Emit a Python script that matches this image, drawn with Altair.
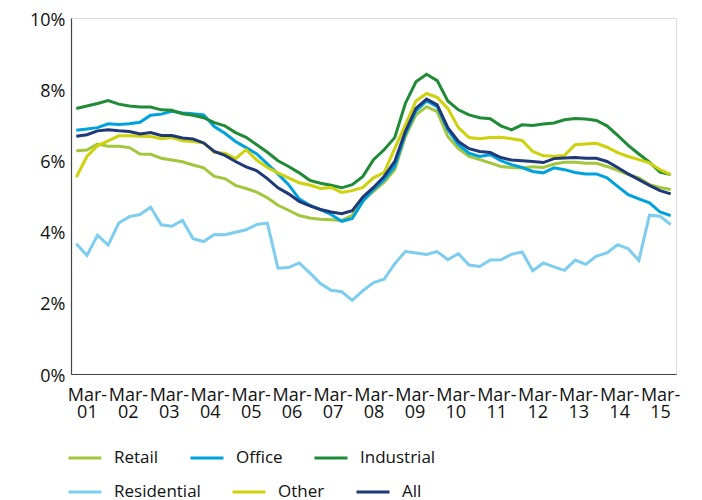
import json
import altair as alt
import pandas as pd

# Quarterly observations, Mar-01 .. Mar-15 (57 quarters), values in %
YEARS = [f"{y:02d}" for y in range(1, 16)]
YEAR_LABELS = [f"Mar-{y}" for y in YEARS]
QUARTERS = [f"{m}-{y}" for y in YEARS for m in ["Mar", "Jun", "Sep", "Dec"]][:57]

SERIES = ["Retail", "Office", "Industrial", "Residential", "Other", "All"]
COLORS = ["#a3c73c", "#00a2de", "#1f8b37", "#7dcdf0", "#cdd20a", "#1f3878"]

retail = [6.27, 6.29, 6.46, 6.40, 6.40, 6.36, 6.18, 6.17, 6.06, 6.01, 5.96, 5.87,
          5.79, 5.55, 5.49, 5.30, 5.21, 5.11, 4.95, 4.74, 4.60, 4.45, 4.38,
          4.35, 4.33, 4.31, 4.46, 4.87, 5.13, 5.39, 5.74, 6.67, 7.28, 7.51,
          7.37, 6.67, 6.33, 6.11, 6.02, 5.93, 5.83, 5.80, 5.79, 5.82, 5.80, 5.90,
          5.95, 5.95, 5.92, 5.92, 5.83, 5.72, 5.60, 5.51, 5.32, 5.24, 5.18]
office = [6.85, 6.88, 6.92, 7.03, 7.01, 7.03, 7.07, 7.27, 7.30, 7.38, 7.33, 7.31,
          7.28, 6.95, 6.76, 6.53, 6.36, 6.18, 5.90, 5.62, 5.32, 4.92, 4.74,
          4.62, 4.48, 4.29, 4.37, 4.85, 5.18, 5.46, 5.83, 6.74, 7.39, 7.67,
          7.51, 6.86, 6.44, 6.20, 6.11, 6.16, 5.99, 5.88, 5.80, 5.69, 5.65, 5.79,
          5.74, 5.66, 5.62, 5.62, 5.51, 5.27, 5.04, 4.92, 4.81, 4.55, 4.45]
industrial = [7.46, 7.53, 7.60, 7.68, 7.58, 7.53, 7.50, 7.50, 7.42, 7.41, 7.31, 7.27,
              7.20, 7.06, 6.97, 6.78, 6.65, 6.44, 6.23, 5.99, 5.83, 5.65, 5.44,
              5.36, 5.30, 5.23, 5.32, 5.55, 6.02, 6.30, 6.64, 7.60, 8.21, 8.42,
              8.24, 7.67, 7.42, 7.28, 7.20, 7.17, 6.97, 6.86, 7.00, 6.98, 7.02, 7.05,
              7.14, 7.18, 7.16, 7.12, 6.97, 6.70, 6.42, 6.18, 5.95, 5.67, 5.60]
residential = [3.66, 3.33, 3.90, 3.62, 4.24, 4.42, 4.48, 4.69, 4.19, 4.15, 4.32, 3.80,
               3.72, 3.92, 3.91, 3.98, 4.05, 4.20, 4.24, 2.97, 2.99, 3.12, 2.84,
               2.54, 2.35, 2.31, 2.07, 2.34, 2.57, 2.66, 3.10, 3.44, 3.40, 3.36,
               3.44, 3.21, 3.38, 3.06, 3.02, 3.20, 3.21, 3.36, 3.43, 2.90, 3.12, 3.01,
               2.91, 3.20, 3.08, 3.31, 3.40, 3.63, 3.52, 3.19, 4.46, 4.43, 4.20]
other = [5.53, 6.11, 6.41, 6.55, 6.69, 6.69, 6.68, 6.67, 6.61, 6.64, 6.55, 6.53,
         6.49, 6.23, 6.20, 6.05, 6.30, 6.01, 5.80, 5.65, 5.51, 5.37, 5.31,
         5.21, 5.24, 5.10, 5.15, 5.24, 5.51, 5.66, 6.33, 7.00, 7.67, 7.88,
         7.77, 7.46, 6.92, 6.64, 6.61, 6.64, 6.65, 6.61, 6.56, 6.25, 6.13, 6.12,
         6.14, 6.44, 6.46, 6.48, 6.37, 6.22, 6.11, 6.02, 5.93, 5.74, 5.60]
all_ = [6.68, 6.72, 6.83, 6.86, 6.83, 6.81, 6.74, 6.78, 6.70, 6.70, 6.63, 6.60,
        6.49, 6.25, 6.14, 5.97, 5.82, 5.71, 5.49, 5.23, 5.06, 4.85, 4.72,
        4.62, 4.55, 4.50, 4.59, 4.97, 5.24, 5.55, 5.97, 6.81, 7.46, 7.72,
        7.56, 6.92, 6.53, 6.33, 6.25, 6.22, 6.08, 6.01, 5.99, 5.97, 5.94, 6.05,
        6.07, 6.08, 6.06, 6.06, 5.97, 5.80, 5.62, 5.46, 5.30, 5.15, 5.06]

VALUES = [retail, office, industrial, residential, other, all_]

rows = []
for s, vals in zip(SERIES, VALUES):
    for i, v in enumerate(vals):
        rows.append({"t": i, "quarter": QUARTERS[i], "series": s, "value": v,
                     "order": SERIES.index(s)})
df = pd.DataFrame(rows)

n = len(QUARTERS)
# year labels are spread evenly along the axis, as in the original chart
label_pos = [1 + k * 54 / 14 for k in range(len(YEAR_LABELS))]
label_arr = json.dumps([[lab[:4], lab[4:]] for lab in YEAR_LABELS])
label_expr = f"{label_arr}[round((datum.value - 1) * 14 / 54)]"

FONT = "Open Sans"
AXIS_FS = 18

x_enc = alt.X("t:Q",
              scale=alt.Scale(domain=[-0.5, n - 0.5], nice=False, zero=False),
              axis=alt.Axis(values=label_pos, labelExpr=label_expr, title=None,
                            ticks=False, grid=False, labelOverlap=False,
                            labelBound=False, labelFlush=False,
                            labelBaseline="top", labelPadding=12,
                            labelLineHeight=17, labelFontSize=AXIS_FS,
                            domainColor="#444444", domainWidth=1.2))
y_enc = alt.Y("value:Q",
              scale=alt.Scale(domain=[0, 10], nice=False),
              axis=alt.Axis(values=[0, 2, 4, 6, 8, 10],
                            labelExpr="datum.value + '%'", title=None,
                            ticks=False, grid=False, labelPadding=6,
                            labelOffset=2, labelFontSize=AXIS_FS,
                            domainColor="#444444", domainWidth=1.2))


def legend(y):
    return alt.Legend(title=None, orient="none", legendX=-4, legendY=y,
                      direction="horizontal", columns=3, gridAlign="none",
                      symbolType="stroke", symbolSize=1089,
                      symbolStrokeWidth=3, labelOffset=11,
                      columnPadding=25, labelFontSize=17,
                      labelColor="#111111")


def layer(names, field, y):
    cols = [COLORS[SERIES.index(s)] for s in names]
    return alt.Chart(df).transform_filter(
        alt.FieldOneOfPredicate(field="series", oneOf=names)
    ).transform_calculate(
        **{field: "datum.series"}
    ).mark_line(strokeWidth=3, clip=False).encode(
        x=x_enc, y=y_enc,
        color=alt.Color(f"{field}:N",
                        scale=alt.Scale(domain=names, range=cols),
                        legend=legend(y)),
        order=alt.Order("order:Q"),
        detail="series:N",
    )


row1 = layer(SERIES[:3], "row1", 422)
row2 = layer(SERIES[3:], "row2", 456)

chart = alt.layer(row1, row2).resolve_scale(color="independent").properties(
    width=605, height=356,
    padding={"left": 63, "top": 10, "right": 18, "bottom": 126},
    autosize=alt.AutoSizeParams(type="none"),
).configure_view(stroke=None).configure(
    font=FONT
).configure_axis(
    labelFont=FONT, labelColor="#111111"
).configure_legend(
    labelFont=FONT
)

chart.save("out.html", embed_options={"renderer": "svg", "actions": False})
